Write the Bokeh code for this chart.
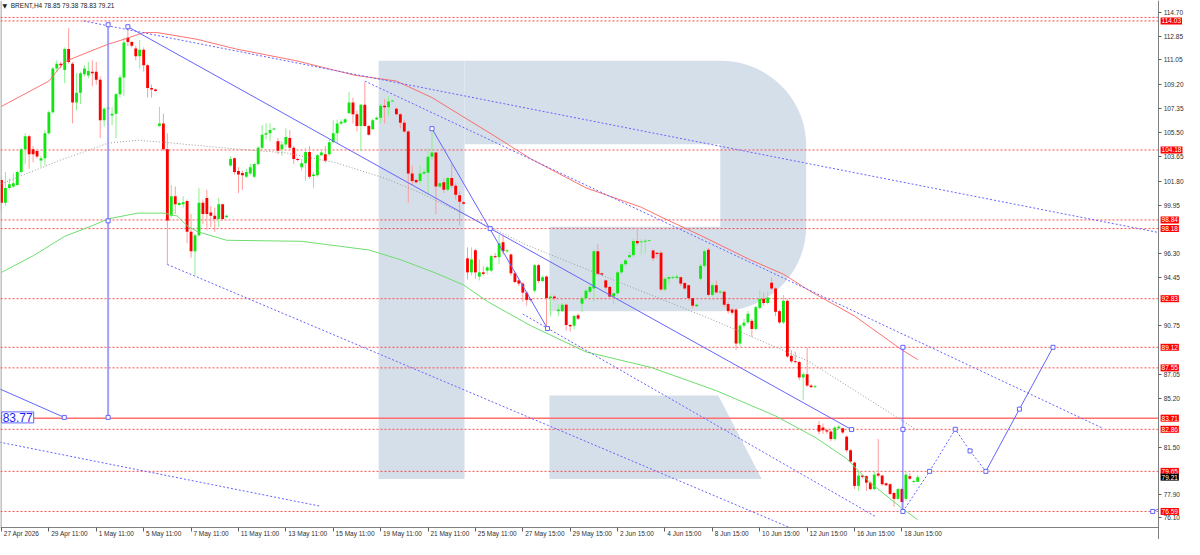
import math
from bokeh.plotting import figure
from bokeh.models import Range1d, FixedTicker, PrintfTickFormatter, Label, ColumnDataSource, LinearAxis
from bokeh.embed import file_html
from bokeh.resources import INLINE

# ---------------- data (BRENT, H4) ----------------
bar_open = [
    101.88, 100.15, 101.27, 101.39, 101.51, 102.50, 104.23, 105.22, 104.23, 104.11,
    103.37, 103.54, 105.46, 107.07, 110.40, 110.77, 110.28, 111.88, 110.77, 107.81,
    108.55, 109.96, 109.86, 110.16, 110.16, 109.54, 106.45, 107.32, 106.82, 106.95,
    108.43, 109.71, 112.75, 112.43, 111.93, 111.34, 111.83, 110.65, 108.92, 108.80,
    106.01, 106.21, 104.23, 99.17, 100.65, 99.98, 100.03, 100.28, 97.93, 96.45,
    97.68, 100.15, 100.52, 99.41, 99.17, 98.92, 100.03, 99.04,
    102.99, 103.54, 102.57, 102.42, 102.13, 102.38, 102.13, 103.12, 104.35, 105.34,
    105.46, 105.76, 104.85, 104.23, 104.60, 105.09, 104.35, 103.49, 102.87, 103.17,
    104.03, 102.20, 102.25, 103.78, 103.86, 103.86, 104.77, 105.46, 106.21, 106.28,
    106.99, 107.81, 106.90, 106.01, 107.64, 106.01, 105.76, 106.50, 106.65, 107.56,
    107.44, 107.90, 107.32, 106.90, 106.25, 105.59, 102.38, 101.88, 101.81, 102.38,
    102.45, 103.66, 103.98, 101.39, 101.71, 101.14, 102.05, 101.46, 100.72, 100.20,
    95.91, 94.84, 96.52, 94.52, 94.84, 94.97, 94.97, 96.08, 96.00, 97.14,
    96.45, 96.20, 94.77, 94.23, 93.98, 93.29, 92.80, 93.44, 95.39, 94.18,
    94.52, 92.87, 92.99, 91.88, 91.88, 92.37, 90.82, 90.77, 91.56, 92.45,
    92.87, 93.36, 93.61, 96.45, 94.77, 94.23, 93.73, 92.99, 93.24, 94.84,
    95.46, 96.00, 96.15, 97.24, 97.14, 97.19, 97.24, 96.50, 96.33, 96.33,
    93.53, 94.35, 94.42, 94.42, 94.47, 94.03, 93.86, 92.87, 92.25, 94.35,
    95.34,
    96.57, 93.12, 93.86, 93.31, 93.36, 92.42, 92.00, 92.00, 89.41, 90.77,
    91.02, 91.14, 90.52, 92.13, 92.82, 92.50, 94.05, 93.61, 91.88, 91.02,
    92.67, 88.47, 88.05, 88.00, 86.82, 87.06, 86.20, 86.08, 83.19, 83.00,
    82.79, 82.69, 82.12, 82.94, 82.94, 82.30, 81.26, 80.32, 78.54, 79.33,
    79.28, 78.79, 78.30, 79.48, 79.33, 78.74, 78.67, 78.00, 77.55, 78.30,
    77.55, 79.28, 78.84, 78.85,
]
bar_high = [
    102.13, 102.50, 102.00, 102.38, 102.62, 104.35, 105.46, 105.34, 104.48, 104.23,
    103.74, 105.71, 107.19, 110.53, 111.02, 110.90, 112.01, 113.49, 110.90, 110.03,
    110.16, 110.65, 110.90, 111.02, 110.90, 109.79, 107.44, 107.50, 107.44, 108.55,
    109.91, 112.75, 113.61, 112.50, 112.13, 112.58, 112.01, 110.77, 109.17, 108.87,
    107.49, 106.95, 105.46, 101.51, 101.39, 100.23, 100.65, 100.40, 99.29, 97.81,
    101.27, 100.40, 101.14, 99.91, 99.78, 100.52, 100.08, 99.24,
    103.70, 103.60, 102.87, 102.62, 102.75, 103.12, 103.20, 104.48, 106.08, 106.21,
    106.21, 105.90, 105.09, 104.85, 105.83, 105.71, 104.48, 103.60, 103.49, 104.35,
    104.48, 102.50, 103.86, 104.10, 104.48, 104.97, 106.45, 106.50, 106.50, 106.60,
    108.62, 108.18, 107.19, 107.70, 109.36, 106.08, 106.57, 106.75, 107.69, 108.06,
    108.30, 108.00, 107.44, 106.99, 106.45, 105.71, 103.00, 102.00, 103.00, 102.75,
    104.35, 105.83, 104.03, 101.76, 102.00, 102.13, 103.12, 101.64, 101.02, 100.28,
    96.75, 96.75, 96.65, 95.83, 95.30, 95.34, 96.20, 96.30, 97.70, 97.70,
    96.60, 96.30, 94.90, 94.30, 94.10, 93.40, 92.90, 95.50, 95.50, 94.60,
    94.60, 93.10, 93.10, 92.40, 92.50, 92.45, 90.90, 91.60, 91.70, 93.00,
    93.60, 93.90, 96.60, 97.00, 94.80, 94.30, 93.80, 93.30, 95.00, 95.60,
    95.90, 96.40, 97.40, 98.23, 97.40, 97.40, 97.30, 96.60, 96.40, 96.50,
    94.50, 94.60, 94.60, 94.70, 94.50, 94.10, 93.90, 92.90, 92.45, 95.50,
    96.60,
    96.70, 94.00, 94.20, 93.50, 93.45, 92.60, 92.10, 92.10, 90.90, 91.30,
    91.90, 91.30, 92.30, 93.50, 93.30, 93.40, 94.45, 93.70, 92.00, 93.10,
    92.80, 88.90, 88.79, 88.10, 87.20, 89.10, 86.30, 86.25, 83.48, 83.30,
    82.90, 82.80, 83.10, 83.20, 83.00, 82.40, 81.35, 80.40, 79.65, 79.40,
    79.35, 78.90, 79.65, 82.12, 79.40, 78.80, 78.75, 78.10, 78.40, 78.40,
    79.65, 79.50, 79.00, 79.38,
]
bar_low = [
    99.54, 99.91, 101.14, 101.27, 101.46, 102.38, 103.12, 102.75, 103.24, 103.54,
    102.87, 102.99, 105.34, 106.95, 110.16, 110.40, 109.29, 110.77, 106.21, 107.19,
    107.69, 109.79, 109.66, 109.05, 109.17, 105.09, 105.96, 107.20, 106.08, 105.09,
    108.18, 108.31, 112.13, 112.01, 111.02, 110.40, 110.16, 108.18, 108.18, 108.63,
    105.96, 104.11, 95.46, 99.04, 99.29, 99.91, 99.78, 97.07, 95.96, 94.60,
    97.56, 98.55, 98.05, 98.30, 97.93, 98.30, 98.80, 98.99,
    102.90, 102.30, 100.89, 101.14, 102.05, 102.25, 102.05, 103.00, 104.23, 104.97,
    104.85, 105.70, 103.86, 103.73, 104.35, 104.18, 103.12, 103.30, 102.62, 101.81,
    102.00, 101.27, 102.13, 103.73, 103.20, 103.73, 104.72, 104.72, 106.08, 106.20,
    106.95, 106.21, 105.59, 104.10, 105.96, 105.27, 105.71, 106.45, 106.20, 106.20,
    106.82, 107.85, 106.82, 105.83, 105.46, 100.15, 101.51, 101.64, 101.56, 102.25,
    100.77, 103.36, 99.29, 101.27, 100.89, 101.02, 101.27, 100.40, 98.42, 100.00,
    94.28, 94.60, 94.35, 94.23, 94.60, 94.70, 94.84, 95.90, 95.46, 96.20,
    96.30, 94.60, 94.00, 93.80, 92.60, 92.30, 92.60, 93.30, 94.00, 94.10,
    90.57, 91.50, 92.70, 91.50, 91.80, 90.40, 90.30, 90.50, 91.20, 91.80,
    92.80, 93.20, 92.60, 94.60, 94.60, 93.50, 92.80, 92.40, 93.10, 94.70,
    95.30, 95.90, 96.00, 96.90, 96.20, 96.30, 97.20, 95.70, 95.90, 93.40,
    93.40, 93.90, 94.30, 94.30, 93.80, 93.50, 92.70, 92.10, 92.20, 94.20,
    95.20,
    92.99, 93.00, 93.20, 93.20, 92.20, 91.70, 91.60, 88.92, 89.20, 90.60,
    90.90, 89.90, 90.40, 92.00, 92.30, 92.40, 93.50, 91.50, 90.90, 90.90,
    88.30, 87.90, 87.90, 86.60, 85.09, 86.10, 86.00, 86.00, 82.49, 82.50,
    82.50, 81.95, 82.00, 82.85, 82.50, 81.10, 80.30, 78.30, 78.17, 79.10,
    78.17, 78.20, 78.20, 79.20, 78.55, 78.50, 77.85, 76.94, 77.45, 76.59,
    77.40, 79.00, 78.75, 78.83,
]
bar_close = [
    100.15, 101.27, 101.56, 101.64, 102.50, 104.23, 105.22, 103.86, 103.86, 103.69,
    103.54, 105.46, 107.07, 110.40, 110.77, 110.65, 111.88, 110.90, 107.81, 108.55,
    110.03, 110.40, 110.21, 110.03, 109.54, 106.45, 107.32, 107.40, 106.95, 108.43,
    109.71, 112.38, 112.43, 112.13, 111.34, 111.83, 110.65, 108.92, 108.80, 108.68,
    106.21, 104.23, 98.79, 100.65, 100.03, 100.13, 100.20, 97.93, 96.45, 97.68,
    100.15, 99.29, 99.29, 99.17, 98.92, 100.03, 98.92, 99.17,
    103.49, 102.50, 102.30, 102.25, 102.50, 102.87, 103.12, 104.35, 105.34, 105.46,
    105.71, 105.81, 104.12, 104.60, 105.17, 104.35, 103.49, 103.41, 103.17, 104.03,
    102.13, 102.30, 103.78, 103.98, 103.36, 104.77, 105.46, 106.21, 106.33, 106.53,
    107.81, 106.90, 106.01, 107.64, 106.01, 105.34, 106.45, 106.65, 107.56, 107.44,
    107.88, 107.95, 106.90, 106.25, 105.59, 102.38, 101.81, 101.71, 102.38, 102.50,
    103.66, 103.98, 101.39, 101.64, 101.14, 102.05, 101.46, 100.77, 100.23, 100.08,
    94.84, 95.83, 94.84, 94.84, 94.72, 95.22, 96.08, 96.00, 97.07, 96.45,
    96.52, 94.77, 94.10, 93.98, 93.29, 92.74, 92.74, 95.39, 94.18, 94.47,
    92.87, 92.99, 92.87, 92.00, 92.37, 90.82, 90.72, 91.51, 91.31, 92.87,
    93.44, 93.73, 96.45, 94.72, 94.67, 93.68, 92.99, 93.24, 94.84, 95.46,
    95.76, 96.15, 97.24, 97.07, 97.19, 97.24, 97.29, 95.91, 96.25, 93.53,
    94.35, 94.47, 94.47, 94.52, 93.98, 93.61, 92.87, 92.30, 92.37, 95.34,
    96.45,
    93.12, 93.86, 93.31, 93.36, 92.37, 91.88, 91.76, 89.41, 90.77, 91.00,
    91.68, 90.52, 92.18, 92.82, 92.50, 92.92, 93.61, 91.83, 91.02, 92.67,
    88.42, 88.05, 88.00, 86.82, 87.06, 86.20, 86.08, 86.15, 82.69, 82.79,
    82.69, 82.12, 82.99, 83.06, 82.62, 81.26, 80.40, 78.54, 79.33, 79.23,
    78.79, 78.30, 79.40, 79.33, 78.67, 78.59, 77.93, 77.55, 78.30, 77.31,
    79.40, 79.09, 78.91, 79.21,
]

time_tick_bars = list(range(0, 229, 12))
time_tick_labels = [
    "27 Apr 2026", "29 Apr 11:00", "1 May 11:00", "5 May 11:00", "7 May 11:00",
    "11 May 11:00", "13 May 11:00", "15 May 11:00", "19 May 11:00", "21 May 11:00",
    "25 May 11:00", "27 May 15:00", "29 May 15:00", "2 Jun 15:00", "4 Jun 15:00",
    "8 Jun 15:00", "10 Jun 15:00", "12 Jun 15:00", "16 Jun 15:00", "18 Jun 15:00",
]
price_ticks = [114.70, 112.85, 111.05, 109.20, 107.35, 105.50, 103.65, 101.80, 99.95,
               96.30, 94.45, 90.75, 87.05, 85.20, 81.50, 77.90, 76.10]

levels_dotted = [114.30, 114.03, 104.18, 98.84, 98.18, 92.83, 89.12, 87.55, 82.86, 79.65, 76.59]
level_solid = 83.71
level_boxes = [114.03, 104.18, 98.84, 98.18, 92.83, 89.12, 87.55, 83.71, 82.86, 79.65, 76.59]
last_price = 79.21
header = "BRENT,H4  78.85 79.38 78.83 79.21"

ma_red_x = [0, 12, 16, 22, 27, 31, 36, 39.5, 49.5, 59.5, 74.5, 89.5, 100, 109, 117, 125,
            134, 148, 162, 167, 177, 189.5, 198, 205, 216, 228, 232]
ma_red_y = [107.51, 109.44, 110.92, 111.66, 112.25, 112.63, 113.14, 113.14, 112.63, 111.88,
            111.00, 109.88, 109.44, 108.18, 106.70, 105.22, 103.51, 101.29, 99.81, 99.07,
            97.66, 95.81, 94.70, 93.36, 91.51, 88.92, 88.18]
ma_green_x = [0, 8, 16, 23, 27, 34.5, 41, 44.5, 47, 49.5, 57, 76, 93, 101, 109.5, 117, 123,
              134, 148, 164.5, 181, 196, 206, 214, 220, 228, 232]
ma_green_y = [94.84, 96.10, 97.59, 98.40, 98.92, 99.36, 99.36, 99.14, 98.40, 97.96, 97.29,
              97.21, 96.55, 95.81, 94.84, 93.88, 92.62, 90.77, 88.77, 87.58, 85.81, 83.88,
              82.25, 80.62, 78.77, 76.84, 75.95]
ma_grey_x = [0, 14.5, 27, 34.5, 41, 59.5, 72, 84.5, 97, 106, 133, 179.5, 204.5, 232]
ma_grey_y = [101.60, 103.36, 104.70, 104.92, 104.77, 104.25, 103.96, 103.22, 102.03, 100.92,
             96.92, 91.29, 88.03, 82.77]

# analysis objects (bar index, price)
solid_lines = [
    ([32, 215.25], [113.59, 82.84]),
    ([109, 138.25], [105.81, 90.55]),
    ([-0.5, 15.9], [85.95, 83.77]),
    ([228.25, 228.25], [76.59, 89.12]),
    ([249.25, 257.75, 266.25], [79.65, 84.40, 89.12]),
    ([291.5, 293.0], [76.59, 76.78]),
]
vertical_marker_line = ([27, 27], [113.74, 83.77])
dotted_lines = [
    ([20.75, 293], [114.03, 97.88]),
    ([92, 279], [109.44, 82.92]),
    ([42, 199.6], [95.44, 75.36]),
    ([132, 221.5], [91.66, 76.17]),
    ([-0.5, 80.75], [81.88, 76.99]),
    ([228.25, 235, 241.5, 245.25, 249.25], [76.59, 79.65, 82.86, 81.21, 79.65]),
]
marker_x = [27, 27, 27, 15.9, 32, 109, 123.75, 138.25, 215.25, 228.25, 228.25, 228.25,
            235, 241.5, 245.25, 249.25, 257.75, 266.25, 291.5]
marker_y = [113.74, 98.77, 83.77, 83.77, 113.59, 105.81, 98.18, 90.55, 82.84, 89.12, 82.86,
            76.59, 79.65, 82.86, 81.21, 79.65, 84.40, 89.12, 76.59]
left_tag_value = 83.77

# ---------------- figure ----------------
X0 = -0.25          # left edge of chart
XA = 293.0          # price-scale position (right edge of the chart area)
XR = 299.55         # right edge of the canvas
Y0 = 75.36          # bottom of chart area (time-scale position)
YB = 74.45          # bottom of canvas
Y1 = 115.59         # top of chart area
FONT = "Liberation Sans"
FS = "6.5px"
BLUE = "#6464FF"
GRID = "#808080"

p = figure(width=1184, height=539, x_range=Range1d(X0, XR), y_range=Range1d(YB, Y1),
           output_backend="svg", toolbar_location=None, x_axis_location=None, y_axis_location=None,
           min_border_left=0, min_border_top=0, min_border_right=0, min_border_bottom=0)
p.xgrid.visible = False
p.ygrid.visible = False
p.outline_line_color = None
p.background_fill_color = "white"
p.border_fill_color = "white"

xax = LinearAxis(fixed_location=Y0, bounds=(X0, XA), ticker=FixedTicker(ticks=time_tick_bars))
xax.major_label_text_color = None
xax.major_tick_out = 4
xax.major_tick_in = 0
xax.minor_tick_line_color = None
xax.axis_line_color = GRID
xax.major_tick_line_color = "#606060"
p.add_layout(xax, "below")

yax = LinearAxis(fixed_location=XA, bounds=(YB, Y1), ticker=FixedTicker(ticks=price_ticks),
                 formatter=PrintfTickFormatter(format="%.2f"))
yax.major_label_text_font = FONT
yax.major_label_text_font_size = FS
yax.major_label_text_color = "#303030"
yax.major_tick_out = 3
yax.major_tick_in = 0
yax.major_label_standoff = 2
yax.minor_tick_line_color = None
yax.axis_line_color = GRID
yax.major_tick_line_color = "#606060"
p.add_layout(yax, "right")

# left border of the chart area
p.segment(x0=[X0 + 0.12], y0=[Y0], x1=[X0 + 0.12], y1=[Y1], line_color=GRID, line_width=1)

# ---- watermark "R" (shape given in reference pixels, mapped through the scales) ----
def ref_px(pts):
    xs = [(x - 2) / 4.0 for x, _ in pts]
    ys = [114.70 - (y - 12) * 0.07409 for _, y in pts]
    return xs, ys

arc = [(730, 62)]
for k in range(0, 19):
    t = math.radians(90 - 5 * k)
    arc.append((730 + 87 * math.cos(t), 149 - 87 * math.sin(t)))
for k in range(0, 19):
    t = math.radians(-5 * k)
    arc.append((730 + 87 * math.cos(t), 233 - 87 * math.sin(t)))
arc.append((730, 320))
shapes = [
    [(384, 62), (471, 62), (471, 493), (384, 493)],
    [(471, 62), (731, 62), (731, 148), (471, 148)],
    arc,
    [(557, 233), (731, 233), (731, 320), (557, 320)],
    [(557, 407), (728, 407), (772, 493), (557, 493)],
]
wx, wy = [], []
for s in shapes:
    a, b = ref_px(s)
    wx.append(a)
    wy.append(b)
p.patches(wx, wy, fill_color="#D5DFEA", line_color=None)

# ---- horizontal levels ----
p.segment(x0=[X0] * len(levels_dotted), y0=levels_dotted, x1=[XA] * len(levels_dotted), y1=levels_dotted,
          line_color="#FF3B3B", line_dash="2 2", line_width=1, line_alpha=0.9)
p.segment(x0=[X0], y0=[level_solid], x1=[XA], y1=[level_solid], line_color="#FF6F6F", line_width=1.5)

# ---- candles ----
n = len(bar_open)
idx = list(range(n))
tops, bots, bcol, wcol = [], [], [], []
for o, c in zip(bar_open, bar_close):
    hi, lo = max(o, c), min(o, c)
    if hi - lo < 0.07:
        m = (hi + lo) / 2
        hi, lo = m + 0.035, m - 0.035
    tops.append(hi)
    bots.append(lo)
    up = c >= o
    bcol.append("#12E612" if up else "#FF0000")
    wcol.append("#8EF08E" if up else "#FF9C9C")
src = ColumnDataSource(dict(x=idx, o=bar_open, h=bar_high, l=bar_low, c=bar_close,
                            top=tops, bottom=bots, bc=bcol, wc=wcol))
p.segment(x0="x", y0="h", x1="x", y1="l", line_color="wc", line_width=1, source=src)
p.vbar(x="x", width=0.72, top="top", bottom="bottom", fill_color="bc", line_color=None, source=src)

# ---- moving averages ----
p.line(ma_red_x, ma_red_y, line_color="#FF5A5A", line_width=1, line_alpha=0.85)
p.line(ma_green_x, ma_green_y, line_color="#6FDC6F", line_width=1)
p.line(ma_grey_x, ma_grey_y, line_color="#9A9A9A", line_width=1, line_dash="1 2")

# ---- analysis objects ----
for xs, ys in dotted_lines:
    p.line(xs, ys, line_color=BLUE, line_width=1, line_dash="2 2")
for xs, ys in solid_lines:
    p.line(xs, ys, line_color=BLUE, line_width=1)
p.line(vertical_marker_line[0], vertical_marker_line[1], line_color="#8A8AFF", line_width=2, line_alpha=0.8)
p.scatter(marker_x, marker_y, marker="square", size=4, line_color=BLUE, fill_color="white", line_width=1)

p.add_layout(Label(x=X0 + 0.3, y=left_tag_value, text=f"{left_tag_value:.2f}", text_align="left",
                   text_baseline="middle", text_font=FONT, text_font_size="12px",
                   text_color="#1F1FF0", background_fill_color="white",
                   border_line_color=BLUE, padding=1))

# ---- header ----
p.add_layout(Label(x=X0 + 0.5, y=Y1 - 0.12, text="\u25BC", text_baseline="top", text_font="DejaVu Sans",
                   text_font_size="6px", text_color="#202020"))
p.add_layout(Label(x=X0 + 2.6, y=Y1 - 0.12, text=header, text_baseline="top", text_font=FONT,
                   text_font_size=FS, text_color="#202020"))

# ---- price boxes on the price scale ----
for lv in level_boxes:
    p.add_layout(Label(x=XA + 0.5, y=lv, text=f"{lv:.2f}", text_align="left", text_baseline="middle",
                       text_font=FONT, text_font_size=FS, text_color="white",
                       background_fill_color="#FF0000", padding=1))
p.add_layout(Label(x=XA + 0.5, y=last_price, text=f"{last_price:.2f}", text_align="left",
                   text_baseline="middle", text_font=FONT, text_font_size=FS, text_color="white",
                   background_fill_color="#000000", padding=1))

# ---- time labels (left-aligned after each tick, MT4 style) ----
for tb, tl in zip(time_tick_bars, time_tick_labels):
    p.add_layout(Label(x=tb + 0.6, y=Y0 - 0.2, text=tl, text_align="left", text_baseline="top",
                       text_font=FONT, text_font_size=FS, text_color="#303030"))

open("out.html", "w").write(file_html(p, INLINE))
